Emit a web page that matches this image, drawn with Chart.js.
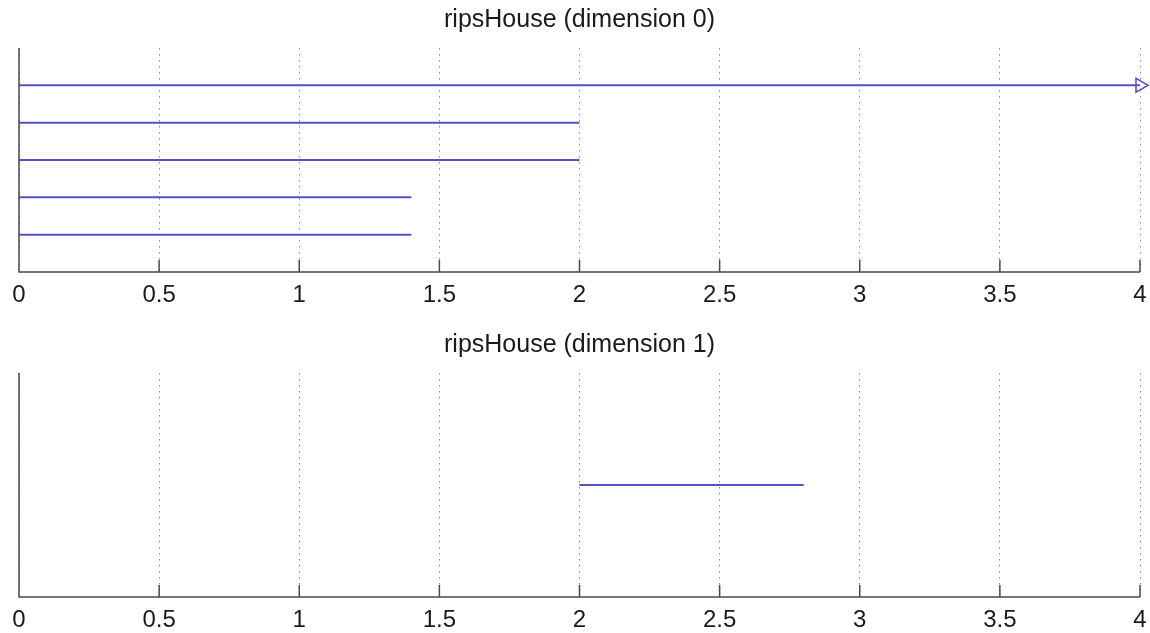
<!DOCTYPE html>
<html>
<head>
<meta charset="utf-8">
<script src="https://cdn.jsdelivr.net/npm/chart.js@4"></script>
<style>
  html, body { margin: 0; padding: 0; background: #fff; overflow: hidden; }
  .painel { position: absolute; left: 0; width: 1150px; }
  #p0 { top: 0; height: 309px; }
  #p1 { top: 309px; height: 324px; }
</style>
</head>
<body>
<div class="painel" id="p0"><canvas id="c0"></canvas></div>
<div class="painel" id="p1"><canvas id="c1"></canvas></div>
<script>
// eixo x: 0..4 de 0.5 em 0.5
const xMin = 0;
const xMax = 4;
const xPasso = 0.5;

// dimensao 0: inicio, fim, linha e se a barra e infinita (seta)
const dim0Inicio = [0, 0, 0, 0, 0];
const dim0Fim = [4, 2, 2, 1.4, 1.4];
const dim0Linha = [1, 2, 3, 4, 5];
const dim0Infinita = [true, false, false, false, false];

// dimensao 1
const dim1Inicio = [2];
const dim1Fim = [2.8];
const dim1Linha = [1];
const dim1Infinita = [false];

const azul = 'rgb(82, 82, 196)';
const fonte = '"Liberation Sans", Arial, Helvetica, sans-serif';

// eixos à esquerda e embaixo, com marcas para dentro
const eixosPlugin = {
    id: 'eixos',
    afterDatasetsDraw(chart) {
        const ctx = chart.ctx;
        const a = chart.chartArea;
        const x = chart.scales.x;
        ctx.save();
        ctx.strokeStyle = '#4a4a4a';
        ctx.lineWidth = 1.5;
        ctx.beginPath();
        ctx.moveTo(a.left, a.top);
        ctx.lineTo(a.left, a.bottom);
        ctx.lineTo(a.right, a.bottom);
        x.ticks.forEach(t => {
            const px = x.getPixelForValue(t.value);
            ctx.moveTo(px, a.bottom);
            ctx.lineTo(px, a.bottom - 12);
        });
        ctx.stroke();
        ctx.restore();
    }
};

function montarBarras(inicio, fim, linha, infinita) {
    const datasets = inicio.map((ini, i) => ({
        type: 'line',
        data: [{ x: ini, y: linha[i] }, { x: fim[i], y: linha[i] }],
        borderColor: azul,
        borderWidth: 2,
        pointRadius: 0,
        fill: false
    }));
    const setas = [];
    infinita.forEach((inf, i) => {
        if (inf) setas.push({ x: fim[i], y: linha[i] });
    });
    if (setas.length) {
        datasets.push({
            type: 'scatter',
            data: setas,
            pointStyle: 'triangle',
            rotation: 90,
            radius: 8,
            borderColor: azul,
            borderWidth: 1.5,
            backgroundColor: '#fff',
            clip: false
        });
    }
    return datasets;
}

function criarGrafico(id, titulo, inicio, fim, linha, infinita, yMax, tituloPad, alturaEixo) {
    new Chart(document.getElementById(id), {
        type: 'line',
        data: { datasets: montarBarras(inicio, fim, linha, infinita) },
        options: {
            responsive: true,
            maintainAspectRatio: false,
            animation: false,
            layout: { autoPadding: false, padding: { left: 19, right: 10, top: 0, bottom: 0 } },
            plugins: {
                legend: { display: false },
                tooltip: { enabled: false },
                title: {
                    display: true,
                    text: titulo,
                    color: '#1a1a1a',
                    font: { family: fonte, size: 25, weight: 'normal', lineHeight: 1.2 },
                    padding: tituloPad
                }
            },
            scales: {
                x: {
                    type: 'linear',
                    min: xMin,
                    max: xMax,
                    afterFit(scale) {
                        scale.height = alturaEixo;
                        scale.paddingRight = 0;
                        scale.paddingLeft = 0;
                    },
                    ticks: {
                        stepSize: xPasso,
                        color: '#1a1a1a',
                        padding: 9,
                        maxRotation: 0,
                        font: { family: fonte, size: 24, lineHeight: 1.2 },
                        callback: v => String(v)
                    },
                    grid: { color: '#8c8c8c', lineWidth: 1, drawTicks: false },
                    border: { display: false, dash: [1.5, 4.5] }
                },
                y: {
                    type: 'linear',
                    display: false,
                    reverse: true,
                    min: 0,
                    max: yMax
                }
            }
        },
        plugins: [eixosPlugin]
    });
}

criarGrafico('c0', 'ripsHouse (dimension 0)', dim0Inicio, dim0Fim, dim0Linha, dim0Infinita,
    dim0Linha.length + 1, { top: 5, bottom: 13 }, 37);
criarGrafico('c1', 'ripsHouse (dimension 1)', dim1Inicio, dim1Fim, dim1Linha, dim1Infinita,
    dim1Linha.length + 1, { top: 21, bottom: 13 }, 36);
</script>
</body>
</html>
